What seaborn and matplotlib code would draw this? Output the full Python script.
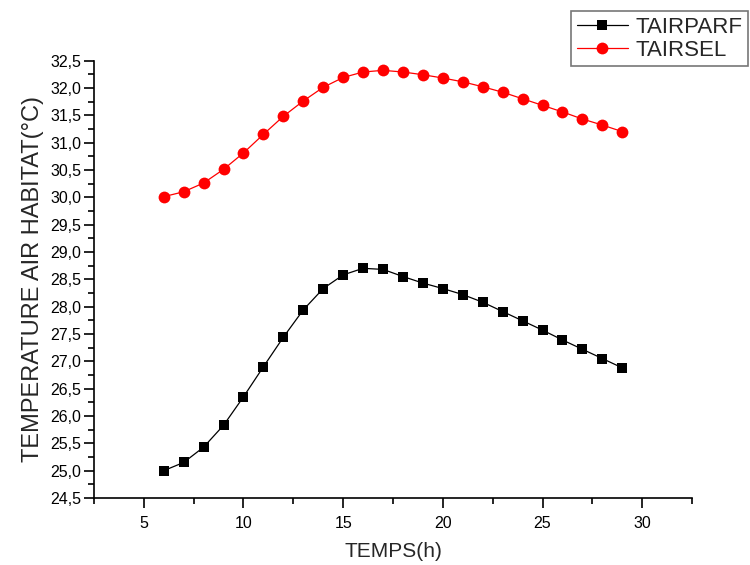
import numpy as np
import pandas as pd
import matplotlib
matplotlib.use('Agg')
import matplotlib.pyplot as plt
from matplotlib.ticker import MultipleLocator, FuncFormatter
import seaborn as sns

temps = [6, 7, 8, 9, 10, 11, 12, 13, 14, 15, 16, 17,
         18, 19, 20, 21, 22, 23, 24, 25, 26, 27, 28, 29]
tairparf = [25.00, 25.15, 25.43, 25.83, 26.35, 26.90, 27.44, 27.94, 28.33, 28.58, 28.70, 28.68,
            28.55, 28.43, 28.33, 28.22, 28.08, 27.91, 27.74, 27.57, 27.39, 27.22, 27.05, 26.88]
tairsel = [30.01, 30.10, 30.26, 30.51, 30.81, 31.15, 31.48, 31.76, 32.01, 32.19, 32.29, 32.32,
           32.29, 32.24, 32.18, 32.11, 32.02, 31.92, 31.80, 31.68, 31.56, 31.43, 31.32, 31.20]

df = pd.DataFrame({'TEMPS': temps, 'TAIRPARF': tairparf, 'TAIRSEL': tairsel})

sns.set_style('ticks')
plt.rcParams['font.family'] = ['Liberation Sans', 'DejaVu Sans']

fig = plt.figure(figsize=(7.5, 5.65), dpi=100)
ax = fig.add_axes([0.1253, 0.1186, 0.7974, 0.7743])

sns.lineplot(data=df, x='TEMPS', y='TAIRPARF', ax=ax, color='black', marker='s',
             markersize=7.5, markeredgewidth=0, linewidth=0.9, label='TAIRPARF')
sns.lineplot(data=df, x='TEMPS', y='TAIRSEL', ax=ax, color='red', marker='o',
             markersize=8.5, markeredgewidth=0, linewidth=0.9, label='TAIRSEL')

ax.set_xlim(2.5, 32.5)
ax.set_ylim(24.5, 32.5)
ax.xaxis.set_major_locator(MultipleLocator(5))
ax.xaxis.set_minor_locator(MultipleLocator(2.5))
ax.yaxis.set_major_locator(MultipleLocator(0.5))
ax.yaxis.set_minor_locator(MultipleLocator(0.25))
ax.yaxis.set_major_formatter(FuncFormatter(lambda v, p: f'{v:.1f}'.replace('.', ',')))

sns.despine(ax=ax)
for s in ['left', 'bottom']:
    ax.spines[s].set_linewidth(1.2)
    ax.spines[s].set_color('black')
ax.tick_params(which='major', length=7, width=1.2, labelsize=11.5, colors='black', pad=2)
ax.tick_params(which='minor', length=4, width=1.2, colors='black')
ax.tick_params(axis='x', pad=6)

ax.set_xlabel('TEMPS(h)', fontsize=15, labelpad=8)
ax.set_ylabel('TEMPERATURE AIR HABITAT(°C)', fontsize=17, labelpad=5)

leg = ax.legend(loc='upper right', bbox_to_anchor=(748 / 750, 1 - 11 / 565),
                bbox_transform=fig.transFigure, fontsize=16, frameon=True,
                fancybox=False, handlelength=2.3, handletextpad=0.35,
                borderpad=0.25, labelspacing=0.1, borderaxespad=0)
leg.get_frame().set_edgecolor('#555555')
leg.get_frame().set_linewidth(1.2)

fig.savefig('out.png', dpi=100)
